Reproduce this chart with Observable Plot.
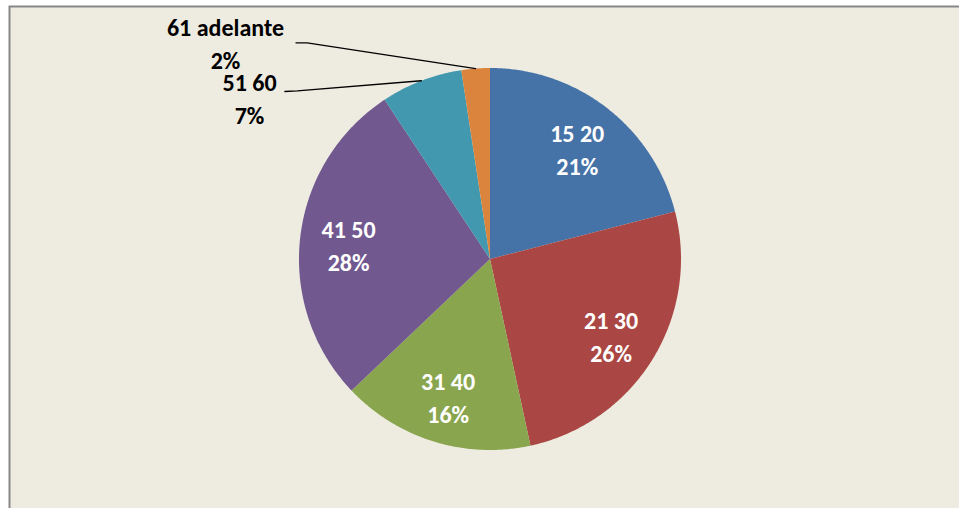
<!DOCTYPE html>
<html>
<head>
<meta charset="utf-8">
<script src="https://cdn.jsdelivr.net/npm/d3@7"></script>
<script src="https://cdn.jsdelivr.net/npm/@observablehq/plot@0.6"></script>
<style>
  html, body { margin: 0; padding: 0; background: #ffffff; }
  #chart svg { overflow: hidden; display: block; }
</style>
</head>
<body>
<div id="chart"></div>
<script>
// ---- data ----
const categories = ["15 20", "21 30", "31 40", "41 50", "51 60", "61 adelante"];
const values = [21.0, 25.6, 16.3, 27.8, 6.9, 2.4];
const colors = ["#4572A7", "#AA4643", "#89A54E", "#71588F", "#4198AF", "#DB843D"];
const outsideCategories = ["51 60", "61 adelante"];

// ---- layout (pixels / chart units) ----
const W = 959, H = 508;
const R = 191, CX = 489.5, CY = 258.5;
const mL = 9, mT = 6, mR = -10, mB = -10;
const insideRadius = 0.745;
// outside label placement, in radius units relative to the pie centre
const outsideLayout = {
  "51 60": {label: [-1.259, 0.832], elbow: [[-1.074, 0.877], [-1.009, 0.880]]},
  "61 adelante": {label: [-1.385, 1.123], elbow: [[-1.016, 1.132], [-0.957, 1.132]]}
};

const total = d3.sum(values);
const arcs = d3.pie().sort(null)(values);

// slice polygons
const slicePts = [];
arcs.forEach((a, i) => {
  const cat = categories[i];
  slicePts.push({cat, x: 0, y: 0});
  const n = Math.max(2, Math.ceil((a.endAngle - a.startAngle) / (Math.PI / 360)));
  for (let k = 0; k <= n; k++) {
    const t = a.startAngle + (a.endAngle - a.startAngle) * k / n;
    slicePts.push({cat, x: Math.sin(t), y: Math.cos(t)});
  }
});

const labels = arcs.map((a, i) => {
  const mid = (a.startAngle + a.endAngle) / 2;
  const cat = categories[i];
  const pct = Math.round(values[i] / total * 100);
  const out = outsideCategories.includes(cat);
  const pos = out ? outsideLayout[cat].label : [insideRadius * Math.sin(mid), insideRadius * Math.cos(mid)];
  return {cat, text: `${cat}\n${pct}%`, x: pos[0], y: pos[1], out, mid};
});

const leaders = [];
labels.filter(d => d.out).forEach(d => {
  const L = outsideLayout[d.cat];
  L.elbow.forEach(p => leaders.push({cat: d.cat, x: p[0], y: p[1]}));
  leaders.push({cat: d.cat, x: Math.sin(d.mid), y: Math.cos(d.mid)});
});

const xDomain = [(mL - CX) / R, (W - mR - CX) / R];
const yDomain = [(CY - (H - mB)) / R, (CY - mT) / R];

const font = "Calibri, Carlito, Lato, sans-serif";

const chart = Plot.plot({
  width: W,
  height: H,
  marginLeft: mL, marginTop: mT, marginRight: mR, marginBottom: mB,
  x: {domain: xDomain, axis: null},
  y: {domain: yDomain, axis: null},
  color: {type: "ordinal", domain: categories, range: colors},
  style: {fontFamily: font, background: "#ffffff"},
  marks: [
    Plot.frame({fill: "#EEECE1", stroke: "#878787", strokeWidth: 2}),
    Plot.line(slicePts, {x: "x", y: "y", z: "cat", fill: "cat", stroke: null, curve: "linear-closed"}),
    Plot.line(leaders, {x: "x", y: "y", z: "cat", stroke: "#000000", strokeWidth: 1.3}),
    Plot.text(labels.filter(d => !d.out), {
      x: "x", y: "y", text: "text", fill: "#ffffff", fontSize: 24, fontWeight: "bold",
      lineHeight: 1.38, dy: 1, fontFamily: font
    }),
    Plot.text(labels.filter(d => d.out), {
      x: "x", y: "y", text: "text", fill: "#000000", fontSize: 24, fontWeight: "bold",
      lineHeight: 1.38, dy: -3, fontFamily: font
    })
  ]
});
document.getElementById("chart").appendChild(chart);
</script>
</body>
</html>
